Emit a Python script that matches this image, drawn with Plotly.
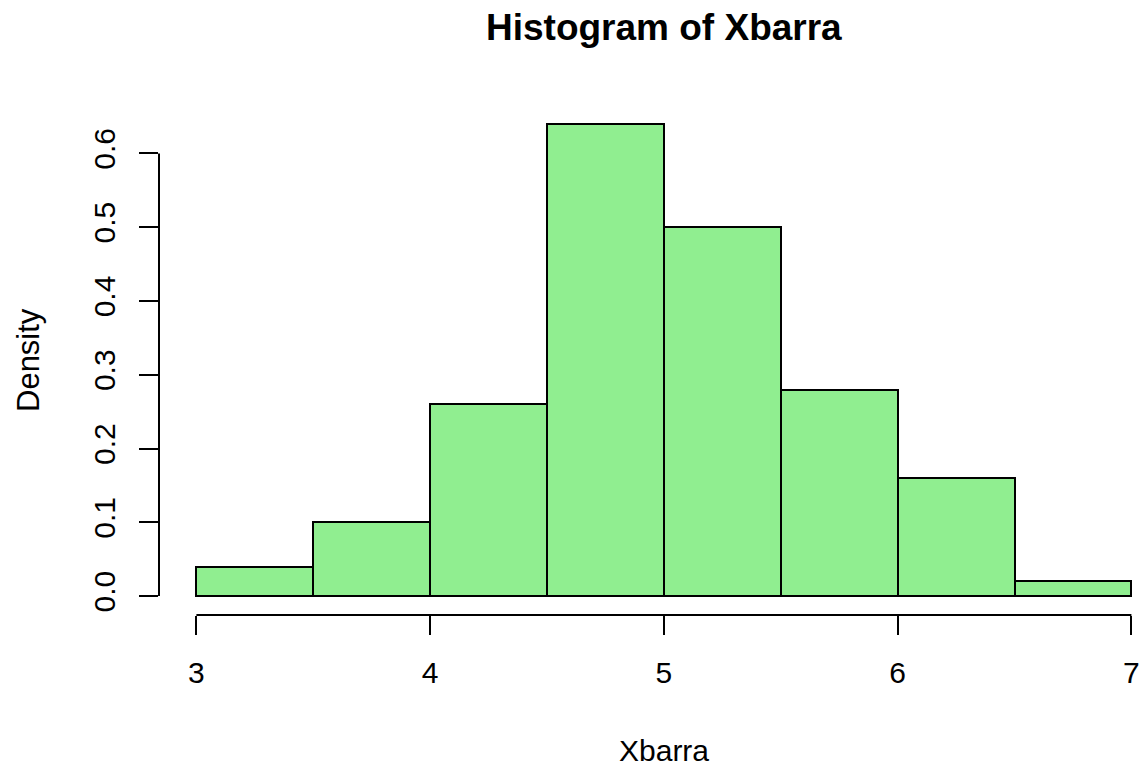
import plotly.graph_objects as go

# Data
bin_edges = [3.0, 3.5, 4.0, 4.5, 5.0, 5.5, 6.0, 6.5, 7.0]
density = [0.04, 0.10, 0.26, 0.64, 0.50, 0.28, 0.16, 0.02]
x_ticks = [3, 4, 5, 6, 7]
y_ticks = [0.0, 0.1, 0.2, 0.3, 0.4, 0.5, 0.6]
y_tick_labels = ["0.0", "0.1", "0.2", "0.3", "0.4", "0.5", "0.6"]

mids = [(a + b) / 2 for a, b in zip(bin_edges[:-1], bin_edges[1:])]
widths = [b - a for a, b in zip(bin_edges[:-1], bin_edges[1:])]

FONT = "Liberation Sans, Arial, Helvetica, sans-serif"

fig = go.Figure()
fig.add_trace(go.Bar(
    x=mids, y=density, width=widths,
    marker=dict(color="#90EE90", line=dict(color="black", width=2)),
    hoverinfo="x+y",
))

# R-style padded ranges
xlo, xhi = min(bin_edges), max(bin_edges)
xpad = 0.04 * (xhi - xlo)
ymax = max(density)
ypad = 0.04 * ymax

W, H = 1143, 768
ml, mr, mt, mb = 159, 0, 105, 153
px_per_x = 233.75

fig.update_layout(
    width=W, height=H,
    margin=dict(l=ml, r=mr, t=mt, b=mb),
    plot_bgcolor="white", paper_bgcolor="white",
    showlegend=False,
    bargap=0,
    font=dict(family=FONT, size=30, color="black"),
    xaxis=dict(
        range=[xlo - xpad, xlo - xpad + (W - ml - mr) / px_per_x],
        tickmode="array", tickvals=x_ticks, ticktext=[str(v) for v in x_ticks],
        ticks="outside", ticklen=19, tickwidth=2, tickcolor="black",
        showline=False, showgrid=False, zeroline=False,
        tickfont=dict(size=30, family=FONT, color="black"),
        ticklabelstandoff=12,
        fixedrange=True,
    ),
    yaxis=dict(
        range=[-ypad, ymax + ypad],
        tickmode="array", tickvals=y_ticks, ticktext=y_tick_labels,
        ticks="outside", ticklen=19, tickwidth=2, tickcolor="black",
        tickangle=-90,
        showline=False, showgrid=False, zeroline=False,
        tickfont=dict(size=30, family=FONT, color="black"),
        ticklabelstandoff=12,
        fixedrange=True,
    ),
    shapes=[
        dict(type="line", xref="x", yref="paper", x0=x_ticks[0], x1=x_ticks[-1],
             y0=0, y1=0, line=dict(color="black", width=2)),
        dict(type="line", xref="paper", yref="y", x0=0, x1=0,
             y0=y_ticks[0], y1=y_ticks[-1], line=dict(color="black", width=2)),
    ],
    annotations=[
        dict(text="<b>Histogram of Xbarra</b>", xref="x", yref="paper",
             x=(xlo + xhi) / 2, y=1, yshift=78, showarrow=False,
             xanchor="center", yanchor="middle",
             font=dict(size=37, family=FONT, color="black")),
        dict(text="Xbarra", xref="x", yref="paper",
             x=(xlo + xhi) / 2, y=0, yshift=-135, showarrow=False,
             xanchor="center", yanchor="middle",
             font=dict(size=30, family=FONT, color="black")),
        dict(text="Density", xref="paper", yref="paper",
             x=0, y=0.5, xshift=-131, showarrow=False, textangle=-90,
             xanchor="center", yanchor="middle",
             font=dict(size=31, family=FONT, color="black")),
    ],
)

fig.write_html(
    "out.html",
    config={"displayModeBar": False},
    post_script="document.body.style.margin='0';document.body.style.overflow='hidden';",
)
